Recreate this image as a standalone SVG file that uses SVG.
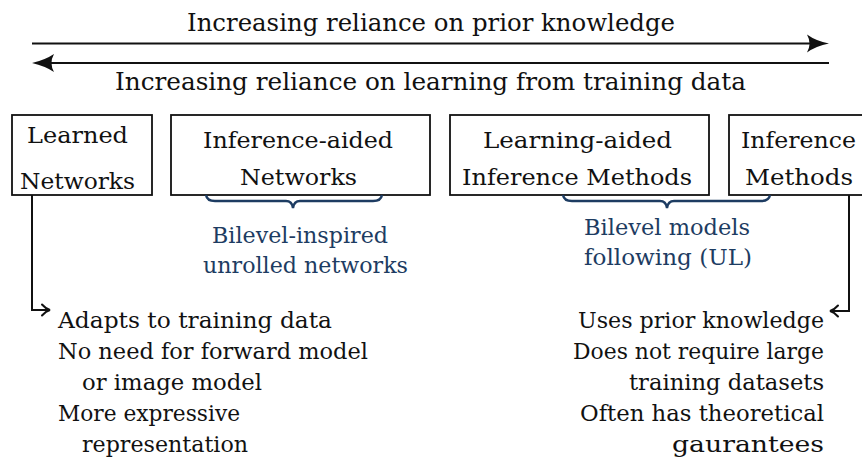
<svg xmlns="http://www.w3.org/2000/svg" width="862" height="457" viewBox="0 0 862 457">
<defs>
<style>
text{font-family:"DejaVu Serif",serif;fill:#111;}
.t{font-size:24px;}
.b{font-size:23px;}
.s{font-size:22.5px;}
.blue{fill:#1d3c62;font-size:22.5px;}
.box{fill:#fff;stroke:#111;stroke-width:1.8;}
.ln{fill:none;stroke:#111;stroke-width:2;}
.tip{fill:none;stroke:#111;stroke-width:2;stroke-linecap:round;}
.head{fill:#111;}
.brace{fill:none;stroke:#1d3c62;stroke-width:2.4;}
</style>
</defs>

<g id="top-labels">
<text class="t" x="187" y="31" textLength="488" lengthAdjust="spacingAndGlyphs">Increasing reliance on prior knowledge</text>
<text class="t" x="115" y="90" textLength="631" lengthAdjust="spacingAndGlyphs">Increasing reliance on learning from training data</text>
</g>

<g id="learned-networks">
<rect class="box" x="12" y="115" width="140" height="80"/>
<text class="b" x="27" y="143" textLength="101" lengthAdjust="spacingAndGlyphs">Learned</text>
<text class="b" x="20" y="189" textLength="115" lengthAdjust="spacingAndGlyphs">Networks</text>
</g>

<g id="inference-aided-networks">
<rect class="box" x="171" y="115" width="259" height="80"/>
<text class="b" x="203" y="148" textLength="190" lengthAdjust="spacingAndGlyphs">Inference-aided</text>
<text class="b" x="240" y="185" textLength="117" lengthAdjust="spacingAndGlyphs">Networks</text>
</g>

<g id="learning-aided-inference">
<rect class="box" x="450" y="115" width="259" height="80"/>
<text class="b" x="483" y="148" textLength="189" lengthAdjust="spacingAndGlyphs">Learning-aided</text>
<text class="b" x="462" y="185" textLength="230" lengthAdjust="spacingAndGlyphs">Inference Methods</text>
</g>

<g id="inference-methods">
<rect class="box" x="729" y="115" width="140" height="80"/>
<text class="b" x="741" y="148" textLength="115" lengthAdjust="spacingAndGlyphs">Inference</text>
<text class="b" x="745" y="185" textLength="108" lengthAdjust="spacingAndGlyphs">Methods</text>
</g>

<g id="bilevel-inspired">
<path class="brace" d="M206,195 Q207,201 215,201 L286,201 Q292,201 293,208 Q294,201 300,201 L373,201 Q381,201 382,195"/>
<text class="blue" x="212" y="243" textLength="176" lengthAdjust="spacingAndGlyphs">Bilevel-inspired</text>
<text class="blue" x="203" y="273" textLength="205" lengthAdjust="spacingAndGlyphs">unrolled networks</text>
</g>

<g id="bilevel-models">
<path class="brace" d="M563,195 Q564,201 572,201 L660,201 Q666,201 667,208 Q668,201 674,201 L761,201 Q769,201 770,195"/>
<text class="blue" x="584" y="235" textLength="166" lengthAdjust="spacingAndGlyphs">Bilevel models</text>
<text class="blue" x="584" y="265" textLength="168" lengthAdjust="spacingAndGlyphs">following (UL)</text>
</g>

<g id="connectors">
<line class="ln" x1="32" y1="43.5" x2="822" y2="43.5"/>
<path class="head" d="M807,34.5 Q816,41 829,43.5 Q816,46 807,52.5 Q812,43.5 807,34.5 Z"/>
<line class="ln" x1="38" y1="63" x2="829" y2="63"/>
<path class="head" d="M54,54 Q45,60 32,63 Q45,66 54,72 Q49,63 54,54 Z"/>
<path class="ln" d="M32,195 L32,310 L49,310"/>
<path class="tip" d="M42,304.5 Q46,309 50,310 Q46,311 42,315.5"/>
<path class="ln" d="M849,195 L849,311 L831,311"/>
<path class="tip" d="M838,305.5 Q834,310 830,311 Q834,312 838,316.5"/>
</g>

<g id="left-list">
<text class="s" x="58" y="328" textLength="274" lengthAdjust="spacingAndGlyphs">Adapts to training data</text>
<text class="s" x="58" y="359" textLength="310" lengthAdjust="spacingAndGlyphs">No need for forward model</text>
<text class="s" x="82" y="390" textLength="180" lengthAdjust="spacingAndGlyphs">or image model</text>
<text class="s" x="58" y="421" textLength="182" lengthAdjust="spacingAndGlyphs">More expressive</text>
<text class="s" x="82" y="452" textLength="166" lengthAdjust="spacingAndGlyphs">representation</text>
</g>

<g id="right-list">
<text class="s" x="578" y="328" textLength="246" lengthAdjust="spacingAndGlyphs">Uses prior knowledge</text>
<text class="s" x="573" y="359" textLength="251" lengthAdjust="spacingAndGlyphs">Does not require large</text>
<text class="s" x="629" y="390" textLength="195" lengthAdjust="spacingAndGlyphs">training datasets</text>
<text class="s" x="580" y="421" textLength="244" lengthAdjust="spacingAndGlyphs">Often has theoretical</text>
<text class="s" x="672" y="452" textLength="152" lengthAdjust="spacingAndGlyphs">gaurantees</text>
</g>
</svg>
